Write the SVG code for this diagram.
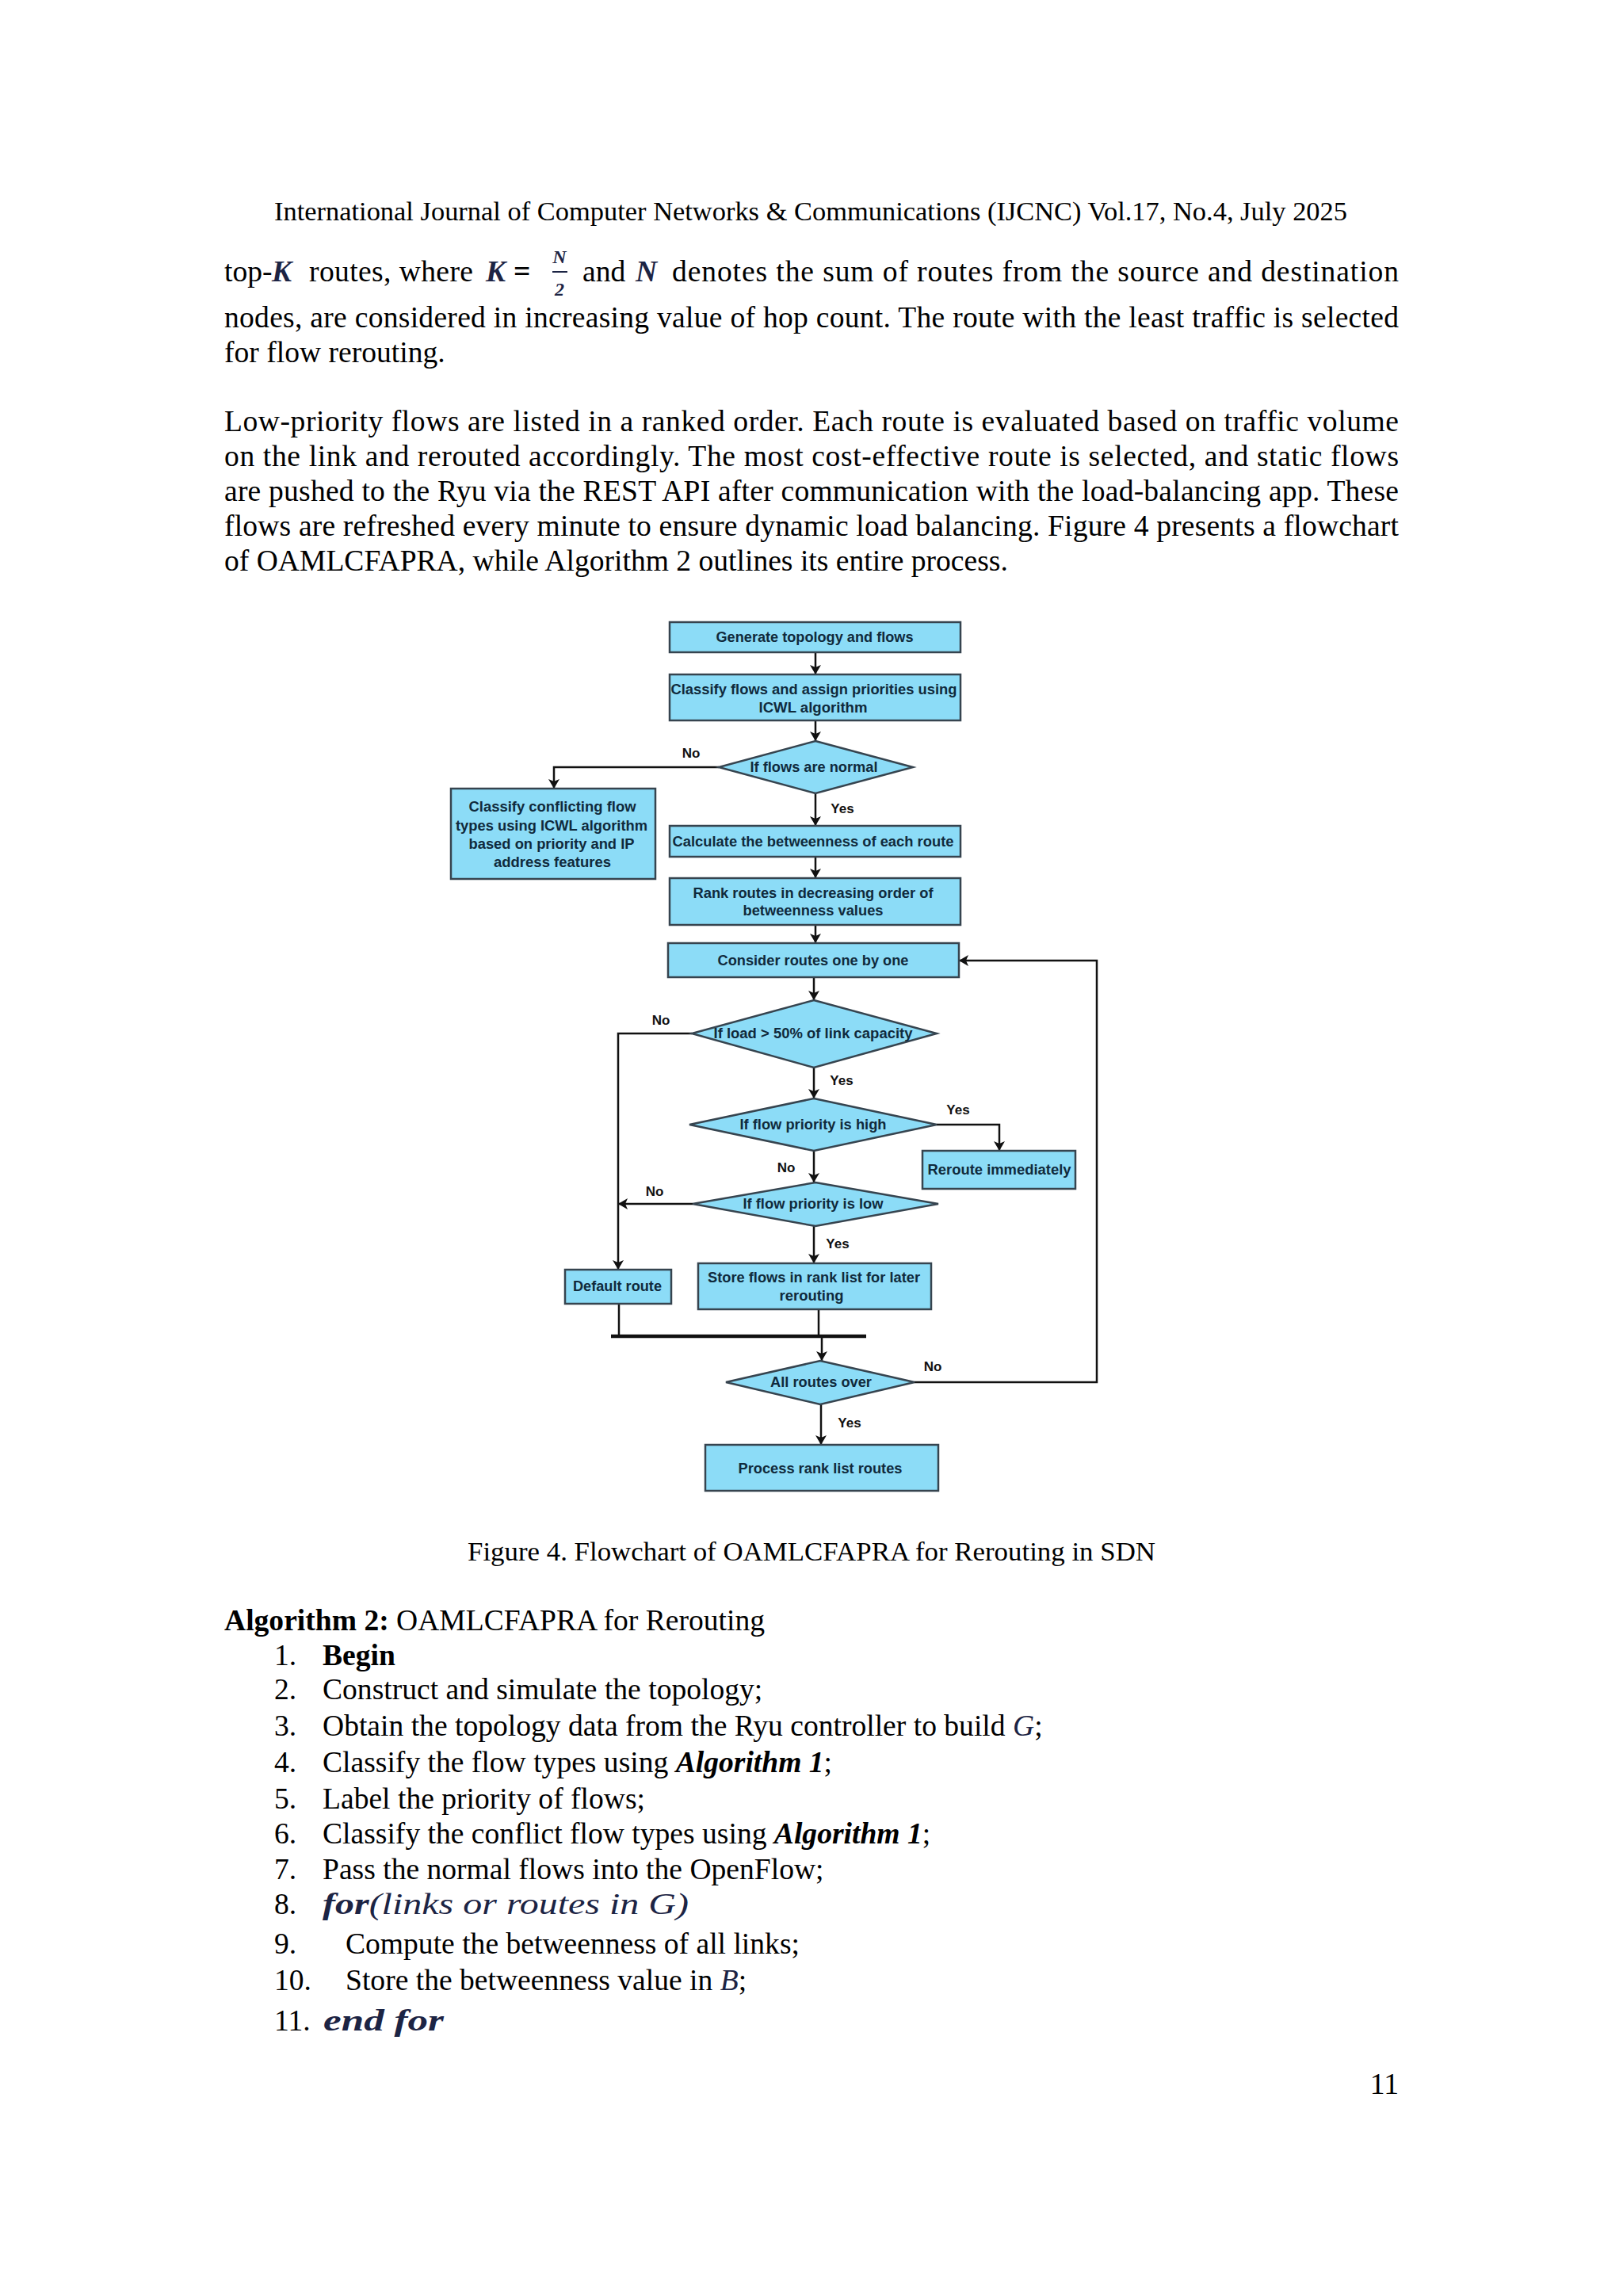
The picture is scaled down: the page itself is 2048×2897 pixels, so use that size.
<svg xmlns="http://www.w3.org/2000/svg" width="2048" height="2897" viewBox="0 0 2048 2897">
<defs>
<style>
.pg{font-family:"Liberation Serif","Times New Roman",serif;font-size:37.6px;fill:#000}
.sm{font-family:"Liberation Serif","Times New Roman",serif;font-size:34.2px;fill:#000}
.mth{font-family:"Liberation Serif","Times New Roman",serif;font-style:italic;font-weight:bold;fill:#1c2444}
.mi{font-family:"Liberation Serif","Times New Roman",serif;font-style:italic;fill:#1c2444}
.box{fill:#8cdcf7;stroke:#36444f;stroke-width:2.5}
.ft{font-family:"Liberation Sans",Arial,sans-serif;font-weight:bold;font-size:18px;fill:#102a3c;text-anchor:middle}
.lb{font-family:"Liberation Sans",Arial,sans-serif;font-weight:bold;font-size:17px;fill:#111;text-anchor:middle}
.cn{fill:none;stroke:#111;stroke-width:2.5}
</style>
<marker id="ah" viewBox="0 0 12 14" markerWidth="12" markerHeight="14" refX="12" refY="7" orient="auto" markerUnits="userSpaceOnUse">
<path d="M0,0 L12,7 L0,14 L3,7 z" fill="#111"/>
</marker>
</defs>
<rect width="2048" height="2897" fill="#fff"/>

<!-- header -->
<text class="sm" x="346" y="278" textLength="1354" lengthAdjust="spacingAndGlyphs">International Journal of Computer Networks &amp; Communications (IJCNC) Vol.17, No.4, July 2025</text>

<!-- paragraph 1 -->
<text class="pg" x="283" y="355">top-</text>
<text class="pg mth" x="343" y="355">K</text>
<text class="pg" x="390" y="355" textLength="207" lengthAdjust="spacing">routes, where</text>
<text class="pg mth" x="613" y="355">K</text>
<text class="pg" x="648" y="355" font-weight="bold">=</text>
<text class="mth" x="706" y="332" font-size="24" text-anchor="middle">N</text>
<line x1="697" y1="343" x2="716" y2="343" stroke="#1c2444" stroke-width="2"/>
<text class="mth" x="706" y="373" font-size="24" text-anchor="middle">2</text>
<text class="pg" x="735" y="355">and</text>
<text class="pg mth" x="802" y="355">N</text>
<text class="pg" x="848" y="355" textLength="917" lengthAdjust="spacing">denotes the sum of routes from the source and destination</text>
<text class="pg" x="283" y="413" textLength="1482" lengthAdjust="spacing">nodes, are considered in increasing value of hop count. The route with the least traffic is selected</text>
<text class="pg" x="283" y="457">for flow rerouting.</text>

<!-- paragraph 2 -->
<text class="pg" x="283" y="544" textLength="1482" lengthAdjust="spacing">Low-priority flows are listed in a ranked order. Each route is evaluated based on traffic volume</text>
<text class="pg" x="283" y="588" textLength="1482" lengthAdjust="spacing">on the link and rerouted accordingly. The most cost-effective route is selected, and static flows</text>
<text class="pg" x="283" y="632" textLength="1482" lengthAdjust="spacing">are pushed to the Ryu via the REST API after communication with the load-balancing app. These</text>
<text class="pg" x="283" y="676" textLength="1482" lengthAdjust="spacing">flows are refreshed every minute to ensure dynamic load balancing. Figure 4 presents a flowchart</text>
<text class="pg" x="283" y="720">of OAMLCFAPRA, while Algorithm 2 outlines its entire process.</text>

<!-- flowchart connectors -->
<g id="connectors">
<line class="cn" x1="1029" y1="823" x2="1029" y2="851" marker-end="url(#ah)"/>
<line class="cn" x1="1029" y1="909" x2="1029" y2="935" marker-end="url(#ah)"/>
<polyline class="cn" points="907,968 699,968 699,995" marker-end="url(#ah)"/>
<line class="cn" x1="1029" y1="1001" x2="1029" y2="1042" marker-end="url(#ah)"/>
<line class="cn" x1="1029" y1="1081" x2="1029" y2="1108" marker-end="url(#ah)"/>
<line class="cn" x1="1029" y1="1167" x2="1029" y2="1190" marker-end="url(#ah)"/>
<line class="cn" x1="1027" y1="1233" x2="1027" y2="1262" marker-end="url(#ah)"/>
<polyline class="cn" points="873,1304 780,1304 780,1602" marker-end="url(#ah)"/>
<line class="cn" x1="1027" y1="1347" x2="1027" y2="1386" marker-end="url(#ah)"/>
<polyline class="cn" points="1182,1419 1261,1419 1261,1452" marker-end="url(#ah)"/>
<line class="cn" x1="1027" y1="1452" x2="1027" y2="1492" marker-end="url(#ah)"/>
<line class="cn" x1="874" y1="1519" x2="780" y2="1519" marker-end="url(#ah)"/>
<line class="cn" x1="1027" y1="1547" x2="1027" y2="1594" marker-end="url(#ah)"/>
<line class="cn" x1="781" y1="1645" x2="781" y2="1686"/>
<line class="cn" x1="1033" y1="1652" x2="1033" y2="1686"/>
<line x1="771" y1="1686" x2="1093" y2="1686" stroke="#111" stroke-width="4.5"/>
<line class="cn" x1="1037" y1="1686" x2="1037" y2="1717" marker-end="url(#ah)"/>
<polyline class="cn" points="1154,1744 1384,1744 1384,1212 1210,1212" marker-end="url(#ah)"/>
<line class="cn" x1="1036" y1="1772" x2="1036" y2="1823" marker-end="url(#ah)"/>
<text class="lb" x="872" y="956">No</text>
<text class="lb" x="1063" y="1026">Yes</text>
<text class="lb" x="834" y="1293">No</text>
<text class="lb" x="1062" y="1369">Yes</text>
<text class="lb" x="1209" y="1406">Yes</text>
<text class="lb" x="992" y="1479">No</text>
<text class="lb" x="826" y="1509">No</text>
<text class="lb" x="1057" y="1575">Yes</text>
<text class="lb" x="1177" y="1730">No</text>
<text class="lb" x="1072" y="1801">Yes</text>
</g>

<!-- nodes -->
<g id="n-generate">
<rect class="box" x="845" y="785" width="367" height="38"/>
<text class="ft" x="1028" y="810" textLength="249" lengthAdjust="spacingAndGlyphs">Generate topology and flows</text>
</g>
<g id="n-classify">
<rect class="box" x="845" y="851" width="367" height="58"/>
<text class="ft" x="1027" y="876" textLength="361" lengthAdjust="spacingAndGlyphs">Classify flows and assign priorities using</text>
<text class="ft" x="1026" y="899" textLength="137" lengthAdjust="spacingAndGlyphs">ICWL algorithm</text>
</g>
<g id="n-normal">
<polygon class="box" points="1029,935 1152,968 1029,1001 907,968"/>
<text class="ft" x="1027" y="974" textLength="161" lengthAdjust="spacingAndGlyphs">If flows are normal</text>
</g>
<g id="n-conflict">
<rect class="box" x="569" y="995" width="258" height="114"/>
<text class="ft" x="697" y="1024" textLength="211" lengthAdjust="spacingAndGlyphs">Classify conflicting flow</text>
<text class="ft" x="696" y="1048" textLength="242" lengthAdjust="spacingAndGlyphs">types using ICWL algorithm</text>
<text class="ft" x="696" y="1071" textLength="209" lengthAdjust="spacingAndGlyphs">based on priority and IP</text>
<text class="ft" x="697" y="1094" textLength="148" lengthAdjust="spacingAndGlyphs">address features</text>
</g>
<g id="n-betweenness">
<rect class="box" x="845" y="1042" width="367" height="39"/>
<text class="ft" x="1026" y="1068" textLength="355" lengthAdjust="spacingAndGlyphs">Calculate the betweenness of each route</text>
</g>
<g id="n-rank">
<rect class="box" x="845" y="1108" width="367" height="59"/>
<text class="ft" x="1026" y="1133" textLength="303" lengthAdjust="spacingAndGlyphs">Rank routes in decreasing order of</text>
<text class="ft" x="1026" y="1155" textLength="177" lengthAdjust="spacingAndGlyphs">betweenness values</text>
</g>
<g id="n-consider">
<rect class="box" x="843" y="1190" width="367" height="43"/>
<text class="ft" x="1026" y="1218" textLength="241" lengthAdjust="spacingAndGlyphs">Consider routes one by one</text>
</g>
<g id="n-load">
<polygon class="box" points="1027,1262 1182,1304 1027,1347 873,1304"/>
<text class="ft" x="1026" y="1310" textLength="251" lengthAdjust="spacingAndGlyphs">If load &gt; 50% of link capacity</text>
</g>
<g id="n-high">
<polygon class="box" points="1027,1386 1182,1419 1027,1452 870,1419"/>
<text class="ft" x="1026" y="1425" textLength="185" lengthAdjust="spacingAndGlyphs">If flow priority is high</text>
</g>
<g id="n-reroute">
<rect class="box" x="1164" y="1452" width="193" height="48"/>
<text class="ft" x="1261" y="1482" textLength="181" lengthAdjust="spacingAndGlyphs">Reroute immediately</text>
</g>
<g id="n-low">
<polygon class="box" points="1029,1492 1184,1519 1029,1547 874,1519"/>
<text class="ft" x="1026" y="1525" textLength="177" lengthAdjust="spacingAndGlyphs">If flow priority is low</text>
</g>
<g id="n-default">
<rect class="box" x="713" y="1602" width="134" height="43"/>
<text class="ft" x="779" y="1629" textLength="112" lengthAdjust="spacingAndGlyphs">Default route</text>
</g>
<g id="n-store">
<rect class="box" x="881" y="1594" width="294" height="58"/>
<text class="ft" x="1027" y="1618" textLength="268" lengthAdjust="spacingAndGlyphs">Store flows in rank list for later</text>
<text class="ft" x="1024" y="1641" textLength="81" lengthAdjust="spacingAndGlyphs">rerouting</text>
</g>
<g id="n-allroutes">
<polygon class="box" points="1035,1717 1154,1744 1035,1772 916,1744"/>
<text class="ft" x="1036" y="1750" textLength="128" lengthAdjust="spacingAndGlyphs">All routes over</text>
</g>
<g id="n-process">
<rect class="box" x="890" y="1823" width="294" height="58"/>
<text class="ft" x="1035" y="1859" textLength="207" lengthAdjust="spacingAndGlyphs">Process rank list routes</text>
</g>

<!-- caption -->
<text class="sm" x="590" y="1969" textLength="868" lengthAdjust="spacingAndGlyphs">Figure 4.  Flowchart of OAMLCFAPRA for Rerouting in SDN</text>

<!-- algorithm -->
<text class="pg" x="283" y="2057"><tspan font-weight="bold">Algorithm 2:</tspan> OAMLCFAPRA for Rerouting</text>
<text class="pg" x="346" y="2101">1.</text><text class="pg" x="407" y="2101" font-weight="bold">Begin</text>
<text class="pg" x="346" y="2144">2.</text><text class="pg" x="407" y="2144">Construct and simulate the topology;</text>
<text class="pg" x="346" y="2190">3.</text><text class="pg" x="407" y="2190">Obtain the topology data from the Ryu controller to build <tspan class="mi">G</tspan>;</text>
<text class="pg" x="346" y="2236">4.</text><text class="pg" x="407" y="2236">Classify the flow types using <tspan font-weight="bold" font-style="italic">Algorithm 1</tspan>;</text>
<text class="pg" x="346" y="2282">5.</text><text class="pg" x="407" y="2282">Label the priority of flows;</text>
<text class="pg" x="346" y="2326">6.</text><text class="pg" x="407" y="2326">Classify the conflict flow types using <tspan font-weight="bold" font-style="italic">Algorithm 1</tspan>;</text>
<text class="pg" x="346" y="2371">7.</text><text class="pg" x="407" y="2371">Pass the normal flows into the OpenFlow;</text>
<text class="pg" x="346" y="2415">8.</text>
<text class="pg" x="407" y="2415" textLength="462" lengthAdjust="spacingAndGlyphs"><tspan class="mth">for</tspan><tspan class="mi">(links or routes in G)</tspan></text>
<text class="pg" x="346" y="2465">9.</text><text class="pg" x="436" y="2465">Compute the betweenness of all links;</text>
<text class="pg" x="346" y="2511">10.</text><text class="pg" x="436" y="2511">Store the betweenness value in <tspan class="mi">B</tspan>;</text>
<text class="pg" x="346" y="2562">11.</text>
<text class="pg mth" x="408" y="2562" textLength="152" lengthAdjust="spacingAndGlyphs">end for</text>

<!-- page number -->
<text class="pg" x="1765" y="2642" text-anchor="end">11</text>
</svg>
